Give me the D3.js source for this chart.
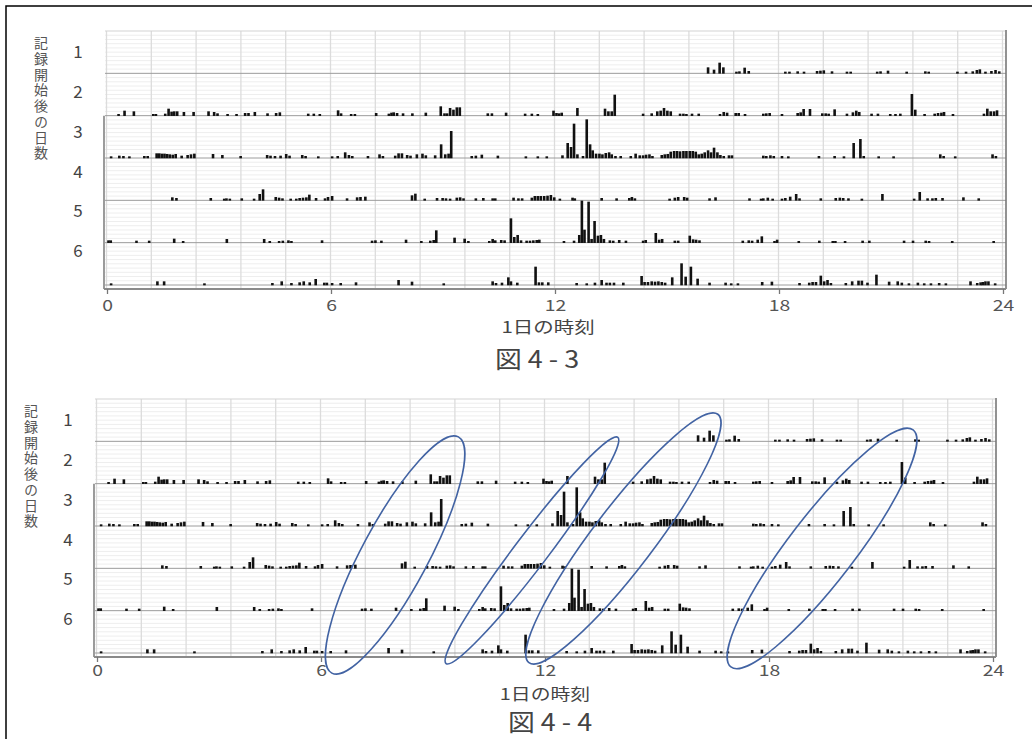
<!DOCTYPE html>
<html><head><meta charset="utf-8">
<script src="https://cdn.jsdelivr.net/npm/d3@7"></script>
<style>body{margin:0;background:#fff}svg{display:block}</style>
</head><body><svg id="c" width="1032" height="739"></svg>
<script>
// ---------- data ----------
const days = [1, 2, 3, 4, 5, 6];
const hourTicks = [0, 6, 12, 18, 24];
const gridStepHours = 1.2;
const yTitle = "記録開始後の日数";
const axisTitle = "1日の時刻";
const captions = ["図 4 - 3", "図 4 - 4"];

// [hour of day, activity count]
const day1 = [[16.1,15],[16.26,8],[16.41,29],[16.51,15],[16.86,2],[16.94,3],[17.08,14],[17.19,4],[18.17,2],[18.28,2],[18.5,3],[18.67,2],[19.02,4],[19.11,5],[19.2,6],[19.42,3],[19.82,2],[19.92,2],[20.63,2],[20.72,3],[20.92,5],[21.42,2],[21.92,3],[22.01,2],[22.78,2],[23.01,2],[23.19,3],[23.3,7],[23.38,9],[23.53,2],[23.69,4],[23.8,7],[23.9,3]];
const day2 = [[0.31,2],[0.47,12],[0.72,10],[1.24,2],[1.31,2],[1.56,3],[1.65,18],[1.73,9],[1.8,10],[1.88,10],[2.06,8],[2.32,8],[2.72,10],[2.87,8],[2.96,4],[3.23,2],[3.47,2],[3.7,5],[3.79,5],[3.96,8],[4.3,4],[4.53,5],[4.63,7],[5.39,3],[5.54,3],[5.7,2],[6.19,13],[6.27,4],[6.54,2],[6.64,2],[7.21,5],[7.55,3],[7.62,6],[7.68,7],[7.77,5],[7.93,4],[8.18,4],[8.54,6],[8.94,25],[9.04,4],[9.11,4],[9.19,20],[9.28,15],[9.37,22],[9.45,22],[10.2,4],[10.31,4],[10.69,6],[11.2,3],[11.38,3],[11.54,2],[11.96,12],[12.04,5],[12.11,4],[12.18,6],[12.6,20],[13.34,18],[13.43,10],[13.52,10],[13.6,60],[14.36,3],[14.59,4],[14.74,10],[14.83,12],[14.92,20],[15.01,12],[15.1,10],[15.35,3],[15.44,3],[15.52,2],[15.67,3],[15.85,3],[16.42,2],[16.52,8],[16.61,6],[16.84,5],[16.92,5],[17.09,2],[17.58,3],[17.66,4],[17.75,5],[18.08,2],[18.5,5],[18.58,7],[18.66,17],[18.83,17],[19.16,4],[19.25,4],[19.33,3],[19.49,16],[19.82,3],[19.98,7],[20.07,12],[20.15,8],[20.48,3],[20.65,3],[20.98,2],[21.12,2],[21.25,3],[21.56,62],[21.65,15],[21.9,2],[22.17,3],[22.26,5],[22.35,6],[22.42,8],[22.66,2],[23.49,3],[23.58,18],[23.67,10],[23.76,10],[23.84,13]];
const day3 = [[0.11,2],[0.33,4],[0.44,3],[0.6,2],[1.0,3],[1.09,3],[1.33,11],[1.4,11],[1.47,10],[1.54,10],[1.61,9],[1.68,8],[1.76,7],[1.84,9],[2.0,4],[2.16,6],[2.25,8],[2.34,10],[2.84,9],[3.09,6],[3.58,3],[4.29,6],[4.38,4],[4.5,3],[4.65,4],[4.8,9],[4.89,4],[5.23,6],[5.32,3],[5.66,2],[6.03,2],[6.18,3],[6.38,14],[6.48,6],[6.57,3],[6.99,3],[7.3,8],[7.39,3],[7.72,4],[7.81,11],[7.9,11],[8.04,6],[8.13,4],[8.3,8],[8.45,10],[8.54,5],[8.79,5],[8.95,38],[9.06,8],[9.15,10],[9.22,78],[9.77,3],[9.88,4],[10.04,7],[10.47,4],[11.22,2],[11.54,2],[11.78,2],[12.2,5],[12.34,42],[12.43,30],[12.51,100],[12.6,8],[12.75,3],[12.85,113],[12.94,38],[13.01,20],[13.1,10],[13.19,10],[13.27,8],[13.36,12],[13.45,14],[13.52,8],[13.62,3],[13.76,3],[14.03,3],[14.16,10],[14.27,5],[14.36,5],[14.44,7],[14.53,8],[14.61,3],[14.86,6],[14.94,8],[15.02,9],[15.1,16],[15.19,18],[15.27,18],[15.35,17],[15.44,18],[15.52,18],[15.61,18],[15.69,18],[15.77,16],[15.85,8],[15.93,10],[16.01,14],[16.1,20],[16.18,14],[16.26,28],[16.35,14],[16.43,6],[16.52,3],[16.66,5],[16.74,5],[17.58,4],[17.66,3],[17.77,5],[17.86,3],[18.08,3],[18.25,2],[19.07,3],[19.49,3],[19.74,2],[20.0,42],[20.18,54],[20.27,3],[20.67,2],[21.07,2],[22.32,8],[22.41,3],[22.72,2],[23.72,8],[23.81,3]];
const day4 = [[1.75,6],[1.86,4],[2.78,4],[3.14,2],[3.2,3],[3.29,2],[3.61,3],[3.94,2],[4.09,16],[4.18,30],[4.52,7],[4.61,5],[4.7,3],[4.92,2],[5.07,2],[5.16,4],[5.25,5],[5.34,6],[5.42,14],[5.6,4],[5.84,3],[5.92,7],[6.03,10],[6.43,3],[6.7,6],[6.79,7],[6.92,8],[8.17,12],[8.26,17],[8.51,2],[8.84,4],[8.99,4],[9.08,3],[9.19,2],[9.37,5],[9.46,6],[9.55,3],[9.88,3],[10.08,4],[10.33,3],[10.4,3],[10.89,5],[11.02,3],[11.12,3],[11.38,5],[11.46,10],[11.54,10],[11.62,10],[11.71,10],[11.8,11],[11.89,13],[11.98,6],[12.13,2],[12.47,5],[12.53,3],[13.25,4],[13.65,3],[13.99,4],[14.06,7],[14.14,3],[15.07,2],[15.21,5],[15.3,7],[15.46,7],[15.54,5],[16.14,3],[16.3,6],[17.21,3],[17.52,2],[17.58,3],[17.7,5],[17.83,2],[18.08,2],[18.17,4],[18.3,8],[18.46,16],[18.55,3],[19.12,3],[19.52,4],[19.63,5],[19.72,4],[19.86,3],[20.22,2],[20.77,16],[21.62,2],[21.77,22],[21.98,3],[22.11,3],[22.2,4],[22.38,4],[22.94,6],[23.35,3]];
const day5 = [[0.04,4],[0.1,4],[0.79,3],[1.13,3],[1.8,9],[2.04,2],[3.21,8],[4.21,8],[4.36,2],[4.61,2],[4.71,3],[4.86,4],[4.94,2],[5.76,4],[7.1,3],[7.19,4],[7.35,3],[8.01,6],[8.42,2],[8.66,3],[8.75,5],[8.82,34],[9.31,12],[9.58,9],[9.68,2],[10.24,2],[10.33,8],[10.4,4],[10.56,5],[10.65,4],[10.82,70],[10.91,14],[11.0,20],[11.09,4],[11.24,3],[11.33,3],[11.42,4],[11.51,5],[11.58,6],[12.24,2],[12.51,3],[12.65,20],[12.72,123],[12.79,36],[12.9,120],[12.98,8],[13.06,62],[13.15,18],[13.23,20],[13.31,8],[13.47,4],[13.56,3],[13.72,5],[13.9,3],[14.36,3],[14.43,5],[14.7,26],[14.79,6],[14.87,8],[15.21,3],[15.3,3],[15.61,18],[15.7,7],[15.78,6],[15.87,4],[17.03,3],[17.19,4],[17.28,3],[17.43,6],[17.54,16],[17.88,2],[17.95,6],[18.53,2],[19.08,3],[19.44,2],[19.51,2],[19.77,2],[20.24,3],[20.42,3],[21.35,3],[21.59,3],[21.93,3],[22.02,2],[22.64,2],[23.75,2]];
const day6 = [[0.11,2],[1.35,8],[1.53,8],[2.61,2],[4.43,3],[4.68,8],[4.94,3],[5.16,5],[5.27,8],[5.43,5],[5.59,15],[5.82,4],[5.89,4],[6.03,3],[6.26,3],[6.67,5],[7.81,12],[8.17,7],[9.02,2],[10.33,8],[10.42,3],[10.58,4],[10.75,20],[10.82,8],[10.99,4],[11.48,52],[11.57,5],[11.66,5],[11.82,5],[12.58,3],[12.85,2],[13.07,4],[13.25,12],[13.38,4],[13.47,4],[13.58,4],[13.83,4],[14.32,24],[14.4,6],[14.49,6],[14.59,8],[14.68,7],[14.77,8],[14.86,6],[14.95,4],[15.14,20],[15.39,62],[15.5,22],[15.64,52],[15.82,16],[16.14,4],[16.57,4],[16.72,2],[16.9,2],[17.55,6],[17.81,7],[18.55,3],[18.81,4],[18.9,6],[18.99,6],[19.12,25],[19.21,8],[19.3,12],[19.39,3],[19.79,3],[19.96,8],[20.13,10],[20.22,10],[20.37,4],[20.61,28],[20.95,7],[21.18,8],[21.29,4],[21.48,2],[21.72,4],[21.89,2],[22.07,2],[22.29,3],[22.47,2],[23.13,8],[23.31,3],[23.4,5],[23.46,6],[23.53,8],[23.61,8],[23.79,2]];
const activity = [day1, day2, day3, day4, day5, day6];

// annotation rings in Fig 4-4: major axis from (hour, day position) to (hour, day position), minor diameter in hours
const rings = [
  {h1: 9.68, p1: 0.895, h2: 6.29, p2: 6.475, minor: 1.77},
  {h1: 13.95, p1: 0.905, h2: 9.35, p2: 6.25, minor: 0.88},
  {h1: 16.63, p1: 0.36, h2: 11.57, p2: 6.23, minor: 1.64},
  {h1: 21.86, p1: 0.73, h2: 16.98, p2: 6.33, minor: 1.77}
];

// ---------- drawing ----------
const FONT = "'Noto Sans CJK JP','Noto Sans',sans-serif";
const svg = d3.select("#c");
svg.append("rect").attr("width", 1032).attr("height", 739).attr("fill", "#fff");
svg.append("path").attr("d", "M6,739V6H1032").attr("fill", "none").attr("stroke", "#000").attr("stroke-width", 1.5);

const x = d3.scaleLinear().domain([0, 24]).range([107, 1003]);
const y = d3.scaleBand().domain(days).range([31, 285]).paddingInner(0).paddingOuter(0);
const yPos = d3.scaleLinear().domain([0, 6]).range([31, 285]);
const v = d3.scaleLinear().domain([0, 126]).range([0, 42]);
const labelY = d3.scalePoint().domain(days).range([52, 251]);
const axisY = 289;

function chart(dx, dy, opt) {
  const g = svg.append("g").attr("transform", `translate(${dx},${dy})`);
  const bw = y.bandwidth();
  const minor = [];
  days.forEach(d => { for (let k = 1; k < 10; k++) minor.push(y(d) + k * bw / 10); });
  g.append("g").selectAll("line").data(minor).join("line")
    .attr("x1", 105).attr("x2", 1005).attr("y1", d => d).attr("y2", d => d)
    .attr("stroke", "#eeeeee").attr("stroke-width", 1);
  g.append("g").selectAll("line").data(d3.range(0, 24.001, gridStepHours)).join("line")
    .attr("x1", d => x(d) - 0.5).attr("x2", d => x(d) - 0.5).attr("y1", 31).attr("y2", axisY)
    .attr("stroke", "#dcdcdc").attr("stroke-width", 1.3);
  g.append("line").attr("x1", 105).attr("x2", 1005).attr("y1", 31).attr("y2", 31).attr("stroke", "#d4d4d4").attr("stroke-width", 1.2);
  g.append("g").selectAll("line").data(days).join("line")
    .attr("x1", 105).attr("x2", 1006).attr("y1", d => y(d) + bw).attr("y2", d => y(d) + bw)
    .attr("stroke", "#9c9c9c").attr("stroke-width", 1);
  g.append("line").attr("x1", 104).attr("x2", 104).attr("y1", y(3)).attr("y2", axisY).attr("stroke", "#666").attr("stroke-width", 1.3);
  g.append("line").attr("x1", 1006).attr("x2", 1006).attr("y1", 30).attr("y2", axisY).attr("stroke", "#777").attr("stroke-width", 1.6);
  days.forEach((d, i) => {
    const base = y(d) + bw;
    g.append("g").selectAll("rect").data(activity[i]).join("rect")
      .attr("x", e => x(e[0]) - 1.3).attr("width", 2.6)
      .attr("y", e => base - v(e[1]) - 1).attr("height", e => v(e[1]) + 1.3)
      .attr("fill", "#111");
  });
  g.append("line").attr("x1", 104).attr("x2", 1006).attr("y1", axisY).attr("y2", axisY).attr("stroke", "#8a8a8a").attr("stroke-width", 2.2);
  const ax = g.append("g").attr("transform", `translate(0,${axisY})`)
    .call(d3.axisBottom(x).tickValues(hourTicks).tickSize(5).tickSizeOuter(0).tickPadding(opt.tickPad));
  ax.select(".domain").remove();
  ax.selectAll(".tick line").attr("stroke", "#777").attr("stroke-width", 1.3);
  ax.selectAll(".tick text").attr("font-family", FONT).attr("font-size", 15.5).attr("fill", "#555")
    .attr("transform", "scale(1.25,1)");
  g.append("g").selectAll("text").data(days).join("text")
    .attr("x", 78).attr("y", d => labelY(d)).attr("dy", "0.36em").attr("text-anchor", "middle")
    .attr("font-family", FONT).attr("font-size", 17).attr("fill", "#444").text(d => d);
  g.append("text").attr("x", 41).attr("y", 36)
    .attr("writing-mode", "tb").style("writing-mode", "vertical-rl")
    .attr("font-family", FONT).attr("font-size", 14).attr("letter-spacing", 1.7)
    .attr("fill", "#555").text(yTitle);
  if (opt.rings) {
    rings.forEach(r => {
      const xa = x(r.h1), ya = yPos(r.p1), xb = x(r.h2), yb = yPos(r.p2);
      const cx = (xa + xb) / 2, cy = (ya + yb) / 2;
      const len = Math.hypot(xa - xb, ya - yb);
      const ang = Math.atan2(ya - yb, xa - xb) * 180 / Math.PI;
      const minorPx = x(r.minor) - x(0);
      g.append("ellipse").attr("cx", cx).attr("cy", cy).attr("rx", len / 2).attr("ry", minorPx / 2)
        .attr("transform", `rotate(${ang},${cx},${cy})`)
        .attr("fill", "none").attr("stroke", "#4263a3").attr("stroke-width", 1.6);
    });
  }
}

function titles(t) {
  svg.append("text").attr("transform", `translate(${t.ax},${t.ay}) scale(1.28,1)`)
    .attr("text-anchor", "middle").attr("dy", "0.36em")
    .attr("font-family", FONT).attr("font-size", t.as).attr("fill", "#444").text(axisTitle);
  svg.append("text").attr("transform", `translate(${t.cx},${t.cy}) scale(1.12,1)`)
    .attr("text-anchor", "middle").attr("dy", "0.36em")
    .attr("font-family", FONT).attr("font-size", 24).attr("fill", "#444").text(t.caption);
}

chart(0, 0, {rings: false, tickPad: 6});
titles({ax: 548, ay: 327, as: 16, cx: 537, cy: 359, caption: captions[0]});
titles({ax: 545, ay: 694, as: 15.5, cx: 550, cy: 722, caption: captions[1]});
chart(-10, 368, {rings: true, tickPad: 3});
</script></body></html>
